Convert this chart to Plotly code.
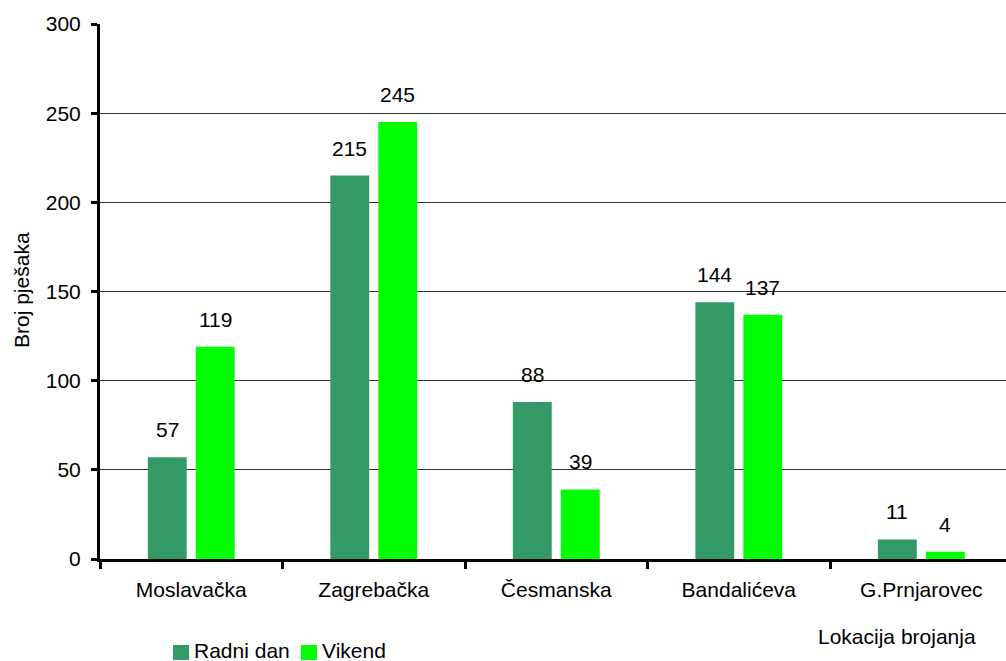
import plotly.graph_objects as go

locations = ["Moslavačka", "Zagrebačka", "Česmanska", "Bandalićeva", "G.Prnjarovec"]
radni_dan = [57, 215, 88, 144, 11]
vikend = [119, 245, 39, 137, 4]
series_names = ["Radni dan", "Vikend"]

dark_green = "#339966"
bright_green = "#00FF00"
font_family = "Liberation Sans, Arial, sans-serif"
fs = 21

W, H = 1006, 661
L, R, T, B = 100, 0, 24, 102


def px_x(x):
    """Pixel column -> paper x."""
    return (x - L) / (W - L - R)


def px_y(y):
    """Pixel row -> paper y."""
    return (H - B - y) / (H - T - B)


fig = go.Figure()
fig.add_trace(go.Bar(name=series_names[0], x=locations, y=radni_dan,
                     marker=dict(color=dark_green, line=dict(width=0))))
fig.add_trace(go.Bar(name=series_names[1], x=locations, y=vikend,
                     marker=dict(color=bright_green, line=dict(width=0))))

# value labels above each bar
offsets = [-0.132, 0.132]
for series, dx in zip([radni_dan, vikend], offsets):
    for i, v in enumerate(series):
        fig.add_annotation(x=i + dx, y=v, text=str(v), showarrow=False,
                           xref="x", yref="y", xanchor="center", yanchor="bottom", yshift=14,
                           font=dict(size=fs, color="black", family=font_family))

# axis titles
fig.add_annotation(x=px_x(897), y=px_y(636), xref="paper", yref="paper",
                   xanchor="center", yanchor="middle",
                   text="Lokacija brojanja", showarrow=False,
                   font=dict(size=fs, color="black", family=font_family))
fig.add_annotation(x=px_x(21), y=px_y(290), xref="paper", yref="paper",
                   xanchor="center", yanchor="middle",
                   text="Broj pješaka", textangle=-90, showarrow=False,
                   font=dict(size=fs, color="black", family=font_family))

# legend: coloured squares with labels
legend_items = [(173, dark_green, series_names[0]), (301, bright_green, series_names[1])]
for x0, col, name in legend_items:
    fig.add_shape(type="rect", xref="paper", yref="paper",
                  x0=px_x(x0), x1=px_x(x0 + 16), y0=px_y(645), y1=px_y(660),
                  fillcolor=col, line=dict(width=0))
    fig.add_annotation(x=px_x(x0 + 19), y=px_y(650), xref="paper", yref="paper",
                       xanchor="left", yanchor="middle", text=name, showarrow=False,
                       font=dict(size=fs, color="black", family=font_family))

fig.update_layout(
    width=W, height=H,
    margin=dict(l=L, r=R, t=T, b=B),
    paper_bgcolor="white", plot_bgcolor="white",
    barmode="group", bargap=0.474, bargroupgap=0.19,
    font=dict(family=font_family, size=fs, color="black"),
    showlegend=False,
    xaxis=dict(
        range=[-0.5, 4.464], showline=True, linecolor="black", linewidth=3,
        ticks="outside", tickson="boundaries", ticklen=7, tickwidth=3, tickcolor="black",
        showgrid=False, tickfont=dict(size=fs), ticklabelstandoff=10,
    ),
    yaxis=dict(
        range=[0, 300], dtick=50, showline=True, linecolor="black", linewidth=3,
        ticks="outside", ticklen=6, tickwidth=3, tickcolor="black",
        showgrid=True, gridcolor="#333333", gridwidth=1, zeroline=False,
        tickfont=dict(size=fs), ticklabelstandoff=6,
    ),
)

fig.write_html("out.html")
